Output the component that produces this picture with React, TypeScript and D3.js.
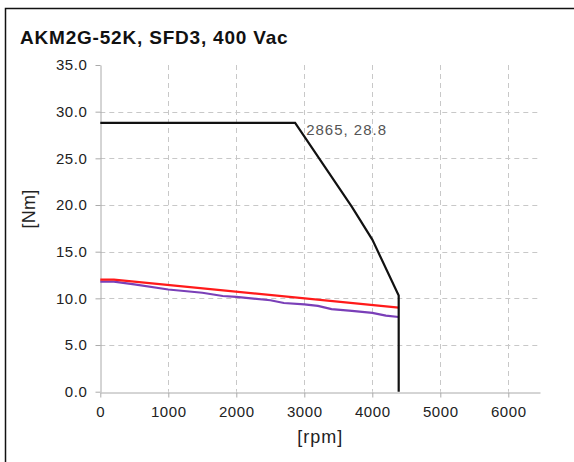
import { useEffect, useRef } from "react"
import * as d3 from "d3"

// Speed [rpm] / torque [Nm] curves
const peakRpm = [0, 2865, 3700, 4000, 4388, 4388]
const peakTorque = [28.8, 28.8, 19.8, 16.3, 10.3, 0]

const contRpm = [0, 200, 4388]
const contTorque = [12.0, 12.0, 9.0]

const ratedRpm = [0, 200, 500, 1000, 1500, 1800, 2000, 2500, 2700, 3000, 3200, 3400, 3700, 4000, 4200, 4388]
const ratedTorque = [11.8, 11.8, 11.5, 10.95, 10.6, 10.25, 10.15, 9.8, 9.5, 9.35, 9.2, 8.85, 8.65, 8.45, 8.15, 8.0]

const xTicks = [0, 1000, 2000, 3000, 4000, 5000, 6000]
const yTicks = [0, 5, 10, 15, 20, 25, 30, 35]

const title = "AKM2G-52K, SFD3, 400 Vac"
const cornerLabel = "2865, 28.8"

const W = 574
const H = 462
const FONT = "'Liberation Sans', Arial, sans-serif"

export default function App() {
  const svgRef = useRef<SVGSVGElement>(null)

  useEffect(() => {
    const svg = d3.select(svgRef.current)
    svg.selectAll("*").remove()

    const left = 100.3
    const right = 540
    const top = 65
    const bottom = 391.7

    const x = d3.scaleLinear().domain([0, 6466]).range([left, right])
    const y = d3.scaleLinear().domain([0, 35]).range([bottom, top])

    svg.append("rect").attr("width", W).attr("height", H).attr("fill", "#fff")

    // outer frame
    svg.append("rect")
      .attr("x", 5.5)
      .attr("y", 8.5)
      .attr("width", W + 10)
      .attr("height", H + 10)
      .attr("fill", "none")
      .attr("stroke", "#111")
      .attr("stroke-width", 1.5)

    svg.append("text")
      .attr("x", 20)
      .attr("y", 44)
      .attr("font-family", FONT)
      .attr("font-size", 19)
      .attr("letter-spacing", 0.8)
      .attr("font-weight", "bold")
      .attr("fill", "#111")
      .text(title)

    // grid
    const grid = svg.append("g").attr("stroke", "#c8c8c8").attr("stroke-dasharray", "5,4").attr("stroke-width", 1)
    xTicks.filter((t) => t > 0).forEach((t) => {
      grid.append("line")
        .attr("x1", Math.round(x(t)) + 0.5).attr("x2", Math.round(x(t)) + 0.5)
        .attr("y1", top).attr("y2", bottom)
    })
    yTicks.filter((t) => t > 0 && t < 35).forEach((t) => {
      grid.append("line")
        .attr("x1", left).attr("x2", right)
        .attr("y1", Math.round(y(t)) + 0.5).attr("y2", Math.round(y(t)) + 0.5)
    })

    // axes
    const xAxis = svg.append("g")
      .attr("transform", `translate(0,${Math.round(bottom) + 0.5})`)
      .call(d3.axisBottom(x).tickValues(xTicks).tickSize(5).tickSizeOuter(0).tickFormat(d3.format("d")))
    const yAxis = svg.append("g")
      .attr("transform", `translate(${Math.round(left) + 0.5},0)`)
      .call(d3.axisLeft(y).tickValues(yTicks).tickSize(5).tickSizeOuter(0).tickFormat(d3.format(".1f")))

    ;[xAxis, yAxis].forEach((a) => {
      a.select(".domain").attr("stroke", "#aaa")
      a.selectAll(".tick line").attr("stroke", "#aaa")
      a.selectAll("text")
        .attr("font-family", FONT)
        .attr("font-size", 15)
        .attr("letter-spacing", 0.6)
        .attr("fill", "#222")
    })
    xAxis.selectAll("text").attr("dy", null).attr("y", 24)
    yAxis.selectAll("text").attr("x", -13)

    svg.append("text")
      .attr("x", (left + right) / 2)
      .attr("y", 443)
      .attr("text-anchor", "middle")
      .attr("font-family", FONT)
      .attr("font-size", 18)
      .attr("letter-spacing", 1)
      .attr("fill", "#222")
      .text("[rpm]")

    svg.append("text")
      .attr("transform", `translate(35,209) rotate(-90)`)
      .attr("text-anchor", "middle")
      .attr("font-family", FONT)
      .attr("font-size", 18)
      .attr("letter-spacing", 0.3)
      .attr("fill", "#222")
      .text("[Nm]")

    const line = d3.line<[number, number]>().x((d) => x(d[0])).y((d) => y(d[1]))
    const series = [
      { xs: ratedRpm, ys: ratedTorque, color: "#7a3fb8" },
      { xs: contRpm, ys: contTorque, color: "#ff1a1a" },
      { xs: peakRpm, ys: peakTorque, color: "#111" },
    ]
    series.forEach((s) => {
      svg.append("path")
        .datum(s.xs.map((v, i) => [v, s.ys[i]] as [number, number]))
        .attr("fill", "none")
        .attr("stroke", s.color)
        .attr("stroke-width", 2.2)
        .attr("d", line)
    })

    svg.append("text")
      .attr("x", x(peakRpm[1]) + 11)
      .attr("y", y(peakTorque[1]) + 12)
      .attr("font-family", FONT)
      .attr("font-size", 15)
      .attr("letter-spacing", 1)
      .attr("fill", "#555")
      .text(cornerLabel)
  }, [])

  return (
    <svg
      ref={svgRef}
      width={W}
      height={H}
      style={{ position: "absolute", left: 0, top: 0, display: "block" }}
    />
  )
}
